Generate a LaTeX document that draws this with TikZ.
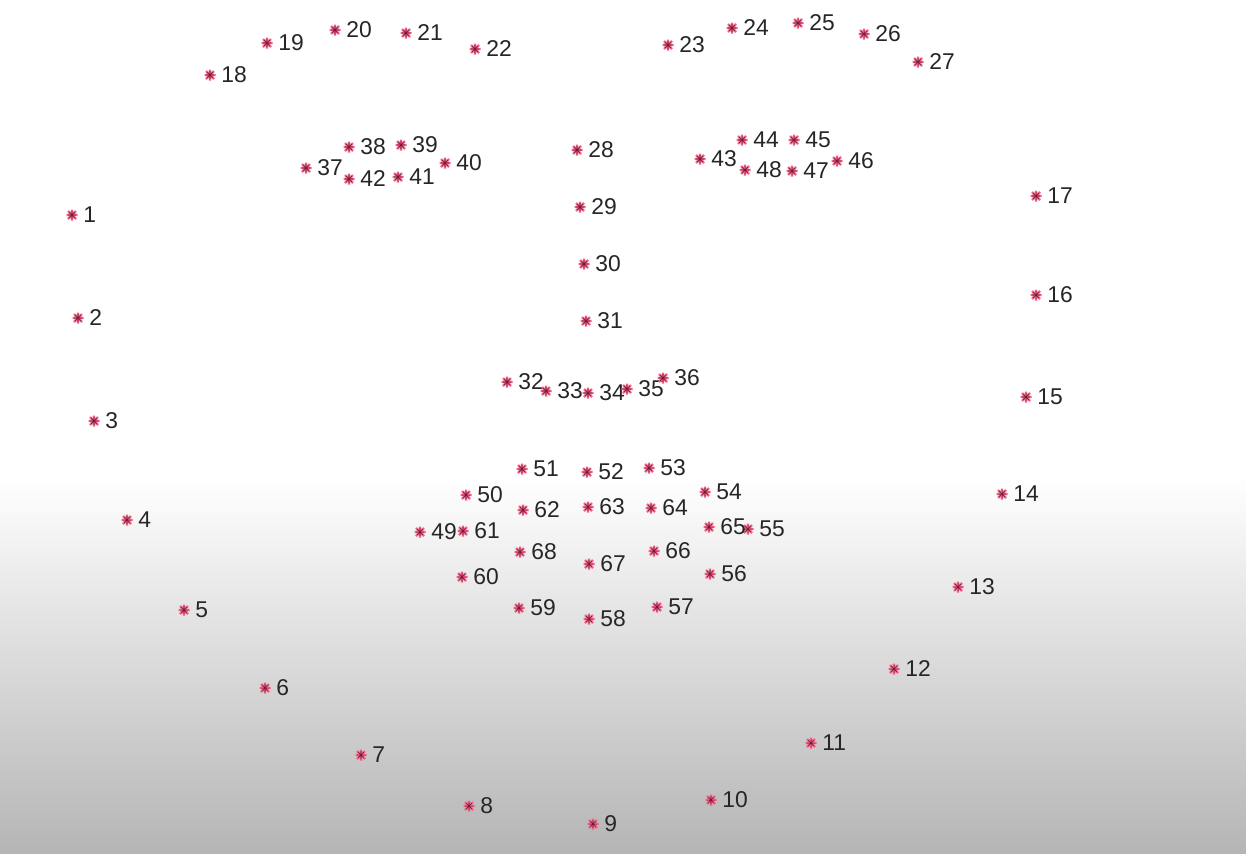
\documentclass[tikz,border=0pt]{standalone}
\usepackage{fontspec}
\setmainfont{Liberation Sans}
\definecolor{sternrot}{RGB}{240,95,135}
\definecolor{sterndunkel}{RGB}{110,30,50}
\tikzset{
	stern/.pic={
		\draw[sternrot, line width=1.3pt] (-5.5,0) -- (5.5,0) (0,-5.5) -- (0,5.5) (-4,-4) -- (4,4) (-4,4) -- (4,-4);
		\draw[sterndunkel, line width=0.3pt] (-4,0) -- (4,0) (0,-4) -- (0,4) (-2.8,-2.8) -- (2.8,2.8) (-2.8,2.8) -- (2.8,-2.8);
	},
	nummer/.style={anchor=west, inner sep=0pt, text=black!85, font=\fontsize{13}{15}\selectfont}
}
\begin{document}
\begin{tikzpicture}[x=0.02cm, y=-0.02cm]
			% Rahmen
			\useasboundingbox (0,0) rectangle (1246,853);
			
			% Hintergrund
			\fill[white] (0,0) rectangle (1246,477);
			\shade[top color=white, bottom color=black!29] (0,477) rectangle (1246,853);
			
			% Landmarken (Kinn, Brauen, Nase, Augen, Mund)
			\foreach \x/\y [count=\i] in {
				72/215, 78/318, 94/421, 127/520, 184/610, 265/688, 361/755, 469/806, 593/824,
				711/800, 811/743, 894/669, 958/587, 1002/494, 1026/397, 1036/295, 1036/196,
				210/75, 267/43, 335/30, 406/33, 475/49,
				668/45, 732/28, 798/23, 864/34, 918/62,
				577/150, 580/207, 584/264, 586/321,
				507/382, 546/391, 588/393, 627/389, 663/378,
				306/168, 349/147, 401/145, 445/163, 398/177, 349/179,
				700/159, 742/140, 794/140, 837/161, 792/171, 745/170,
				420/532, 466/495, 522/469, 587/472, 649/468, 705/492, 748/529,
				710/574, 657/607, 589/619, 519/608, 462/577,
				463/531, 523/510, 588/507, 651/508, 709/527, 654/551, 589/564, 520/552}
			{
				\pic at (\x,\y) {stern};
				\node[nummer] (p\i) at (\x+11,\y) {\i};
			}
			
		\end{tikzpicture}
\end{document}
